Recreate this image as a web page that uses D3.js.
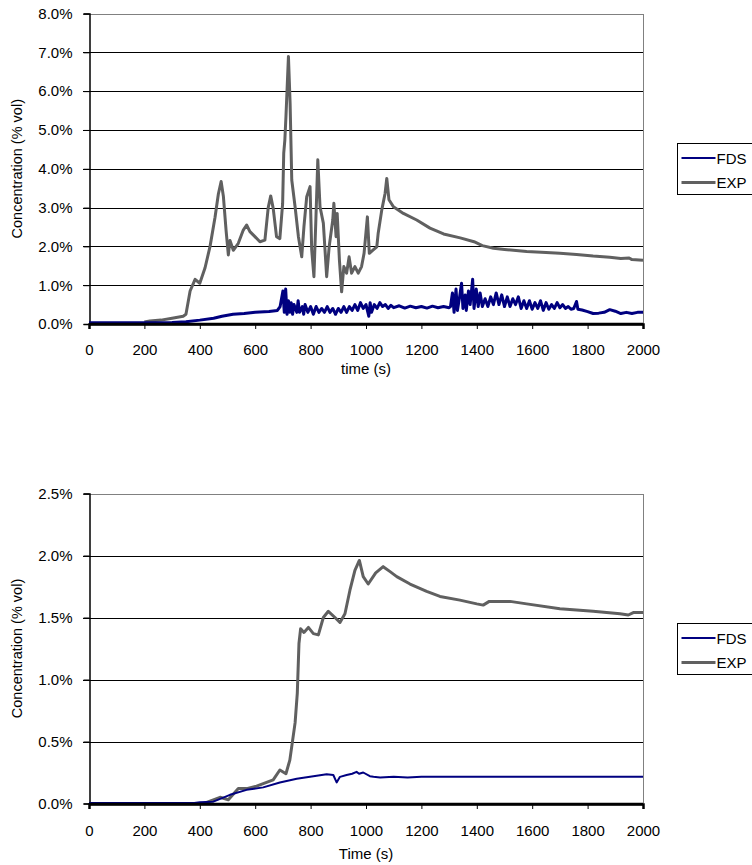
<!DOCTYPE html>
<html><head><meta charset="utf-8">
<script src="https://cdn.jsdelivr.net/npm/d3@7"></script>
<style>body{margin:0;background:#fff}svg{display:block}text{font-family:"Liberation Sans",Arial,sans-serif;font-size:15px;fill:#000}</style>
</head><body>
<script>
// ---- data ----
const seriesNames = ["FDS", "EXP"];
const xTicks = [0,200,400,600,800,1000,1200,1400,1600,1800,2000];
const yTicksTop = [0,1,2,3,4,5,6,7,8];
const yTicksBottom = [0,0.5,1,1.5,2,2.5];

const topFDS = [[0,0.03],[100,0.03],[200,0.03],[300,0.04],[350,0.06],[400,0.1],[450,0.15],[480,0.2],[520,0.25],[560,0.27],[600,0.3],[650,0.32],[680,0.35],
[690,0.45],[700,0.85],[705,0.3],[710,0.9],[715,0.25],[720,0.6],[725,0.3],[730,0.55],[735,0.25],[740,0.5],[750,0.3],[755,0.6],[760,0.3],[770,0.45],[775,0.25],[780,0.5],[790,0.3],[800,0.45],[810,0.25],[820,0.45],[830,0.3],[840,0.4],[850,0.3],[860,0.45],[870,0.3],[880,0.4],[890,0.25],[900,0.4],[910,0.3],[920,0.45],[930,0.3],[940,0.45],[950,0.35],[960,0.5],[970,0.35],[980,0.55],[990,0.4],[1000,0.5],[1010,0.2],[1015,0.55],[1020,0.3],[1030,0.5],[1040,0.4],[1050,0.55],[1060,0.45],[1070,0.5],[1080,0.4],[1090,0.48],[1100,0.42],[1120,0.47],[1140,0.41],[1160,0.46],[1180,0.42],[1200,0.45],[1220,0.41],[1240,0.46],[1260,0.42],[1280,0.45],[1300,0.42],
[1305,0.45],[1312,0.8],[1318,0.3],[1325,0.9],[1330,0.35],[1338,0.7],[1345,1.05],[1350,0.4],[1358,0.75],[1362,0.35],[1370,0.85],[1376,0.5],[1385,1.15],[1390,0.4],[1398,0.9],[1405,0.45],[1412,0.8],[1420,0.45],[1430,0.65],[1440,0.45],[1450,0.7],[1460,0.5],[1470,0.8],[1480,0.5],[1490,0.75],[1500,0.45],[1510,0.7],[1520,0.45],[1530,0.65],[1540,0.5],[1550,0.7],[1560,0.4],[1570,0.6],[1580,0.4],[1590,0.6],[1600,0.38],[1610,0.55],[1620,0.4],[1630,0.6],[1640,0.35],[1650,0.55],[1660,0.38],[1670,0.5],[1680,0.4],[1690,0.55],[1700,0.42],[1710,0.5],[1720,0.4],[1730,0.45],[1740,0.38],[1750,0.4],[1760,0.58],[1765,0.38],[1780,0.36],[1800,0.32],[1820,0.27],[1840,0.28],[1860,0.3],[1880,0.37],[1900,0.33],[1920,0.27],[1940,0.3],[1960,0.27],[1980,0.3],[2000,0.3]];

const topEXP = [[200,0.05],[220,0.08],[260,0.1],[300,0.15],[340,0.2],[350,0.25],[365,0.85],[383,1.15],[400,1.05],[419,1.45],[437,2.0],[455,2.75],[467,3.35],[477,3.67],[485,3.3],[495,2.4],[503,1.78],[509,2.15],[521,1.9],[539,2.08],[557,2.42],[569,2.55],[581,2.38],[599,2.25],[617,2.12],[635,2.16],[647,3.0],[656,3.3],[665,2.98],[677,2.25],[689,2.2],[699,3.1],[703,4.4],[707,4.74],[711,5.34],[720,6.89],[726,5.69],[732,3.71],[744,3.02],[756,2.25],[768,1.73],[776,2.51],[786,3.28],[798,3.54],[804,1.91],[812,1.22],[819,2.68],[826,4.23],[834,3.02],[846,2.6],[858,1.22],[867,1.99],[880,2.68],[884,3.11],[892,2.25],[896,2.85],[904,1.65],[912,0.83],[920,1.48],[930,1.31],[939,1.73],[948,1.31],[960,1.48],[972,1.31],[984,1.48],[993,1.82],[1005,2.76],[1012,1.82],[1026,1.91],[1039,1.99],[1044,2.34],[1057,2.94],[1069,3.37],[1075,3.75],[1083,3.2],[1099,3.02],[1135,2.85],[1183,2.68],[1231,2.47],[1280,2.32],[1340,2.22],[1390,2.12],[1420,2.02],[1460,1.95],[1500,1.92],[1580,1.87],[1650,1.84],[1700,1.82],[1760,1.79],[1820,1.75],[1880,1.72],[1920,1.69],[1950,1.7],[1960,1.66],[2000,1.64]];

const bottomFDS = [[0,0.005],[380,0.005],[400,0.01],[449,0.015],[509,0.07],[569,0.11],[629,0.13],[689,0.17],[750,0.2],[810,0.22],[858,0.235],[882,0.23],[894,0.17],[906,0.215],[930,0.23],[950,0.24],[966,0.255],[975,0.24],[990,0.25],[1014,0.22],[1027,0.215],[1051,0.21],[1100,0.215],[1150,0.21],[1200,0.215],[2000,0.215]];

const bottomEXP = [[415,0],[449,0.03],[473,0.05],[503,0.03],[539,0.12],[569,0.12],[605,0.14],[641,0.17],[665,0.19],[689,0.27],[711,0.24],[725,0.35],[744,0.65],[752,0.89],[758,1.29],[764,1.41],[776,1.38],[792,1.42],[810,1.37],[828,1.36],[846,1.5],[864,1.55],[888,1.5],[906,1.46],[924,1.53],[942,1.72],[960,1.88],[976,1.96],[990,1.83],[1008,1.77],[1035,1.86],[1062,1.91],[1087,1.87],[1111,1.83],[1159,1.77],[1219,1.71],[1267,1.67],[1339,1.64],[1400,1.61],[1423,1.6],[1445,1.63],[1520,1.63],[1580,1.61],[1700,1.57],[1820,1.55],[1917,1.53],[1947,1.52],[1965,1.54],[2000,1.54]];

// ---- drawing ----
const W = 752, H = 865;
const svg = d3.select("body").append("svg").attr("width", W).attr("height", H);
const colors = {FDS: "#000080", EXP: "#606060"};
const FONT = "Liberation Sans, Arial, sans-serif";

function panel(opt) {
  const x = d3.scaleLinear().domain([0, 2000]).range([89, 643]);
  const y = d3.scaleLinear().domain(opt.yDomain).range([opt.y0, opt.y1]);
  const g = svg.append("g");
  // gridlines
  g.selectAll(".grid").data(opt.yTicks.slice(1)).join("line")
    .attr("x1", 83).attr("x2", 643)
    .attr("y1", d => Math.round(y(d)) + 0.5).attr("y2", d => Math.round(y(d)) + 0.5)
    .attr("stroke", d => d === opt.yDomain[1] ? "#808080" : "#000").attr("stroke-width", 1);
  // right border
  g.append("line").attr("x1", 643.5).attr("x2", 643.5).attr("y1", Math.round(y(opt.yDomain[1]))).attr("y2", y(0))
    .attr("stroke", "#808080");
  // y axis
  const ya = d3.axisLeft(y).tickValues(opt.yTicks).tickFormat(d => d3.format(".1f")(d) + "%").tickSize(6).tickPadding(11);
  const yg = g.append("g").attr("transform", "translate(89.5,0)").call(ya);
  yg.selectAll("text").style("font-size", "15px").attr("font-family", FONT);
  yg.select(".domain").attr("stroke", "#000").attr("stroke-width", 1.5);
  // x axis
  const xa = d3.axisBottom(x).tickValues(xTicks).tickFormat(d3.format("d")).tickSize(5).tickPadding(opt.xPad);
  const xg = g.append("g").attr("transform", `translate(0,${Math.round(y(0))})`).call(xa);
  xg.selectAll("text").style("font-size", "15px").attr("font-family", FONT);
  xg.select(".domain").attr("stroke", "#000").attr("stroke-width", 2.5);
  // lines
  const line = d3.line().x(d => x(d[0])).y(d => y(d[1]));
  g.append("path").datum(opt.exp).attr("d", line).attr("fill", "none").attr("stroke", colors.EXP).attr("stroke-width", 3).attr("stroke-linejoin", "round");
  g.append("path").datum(opt.fds).attr("d", line).attr("fill", "none").attr("stroke", colors.FDS).attr("stroke-width", opt.fdsW).attr("stroke-linejoin", "round");
  // redraw x-axis line on top
  g.append("line").attr("x1", 89).attr("x2", 643).attr("y1", Math.round(y(0))).attr("y2", Math.round(y(0))).attr("stroke", "#000").attr("stroke-width", 2.5);
  // axis titles
  g.append("text").attr("transform", `translate(22,${(opt.y0 + opt.y1) / 2}) rotate(-90)`).attr("text-anchor", "middle").style("font-size", "14.5px").text("Concentration (% vol)");
  g.append("text").attr("x", 366).attr("y", opt.xTitleY).attr("text-anchor", "middle").text(opt.xTitle);
  // legend
  const lg = g.append("g").attr("transform", `translate(677.5,${opt.legY + 0.5})`);
  lg.append("rect").attr("width", 100).attr("height", 51).attr("fill", "#fff").attr("stroke", "#000");
  seriesNames.forEach((s, i) => {
    const ly = 14.5 + i * 24.5;
    lg.append("line").attr("x1", 4).attr("x2", 38).attr("y1", ly).attr("y2", ly).attr("stroke", colors[s]).attr("stroke-width", s === "EXP" ? 3 : 2);
    lg.append("text").attr("x", 39).attr("y", ly + 5.5).text(s);
  });
}

panel({yDomain: [0, 8], y0: 324, y1: 13.5, yTicks: yTicksTop, fds: topFDS, exp: topEXP, fdsW: 3, xTitle: "time (s)", xTitleY: 374, xPad: 15.5, legY: 143});
panel({yDomain: [0, 2.5], y0: 803.5, y1: 493.5, yTicks: yTicksBottom, fds: bottomFDS, exp: bottomEXP, fdsW: 2, xTitle: "Time (s)", xTitleY: 858.5, xPad: 16, legY: 623});
</script>
</body></html>
